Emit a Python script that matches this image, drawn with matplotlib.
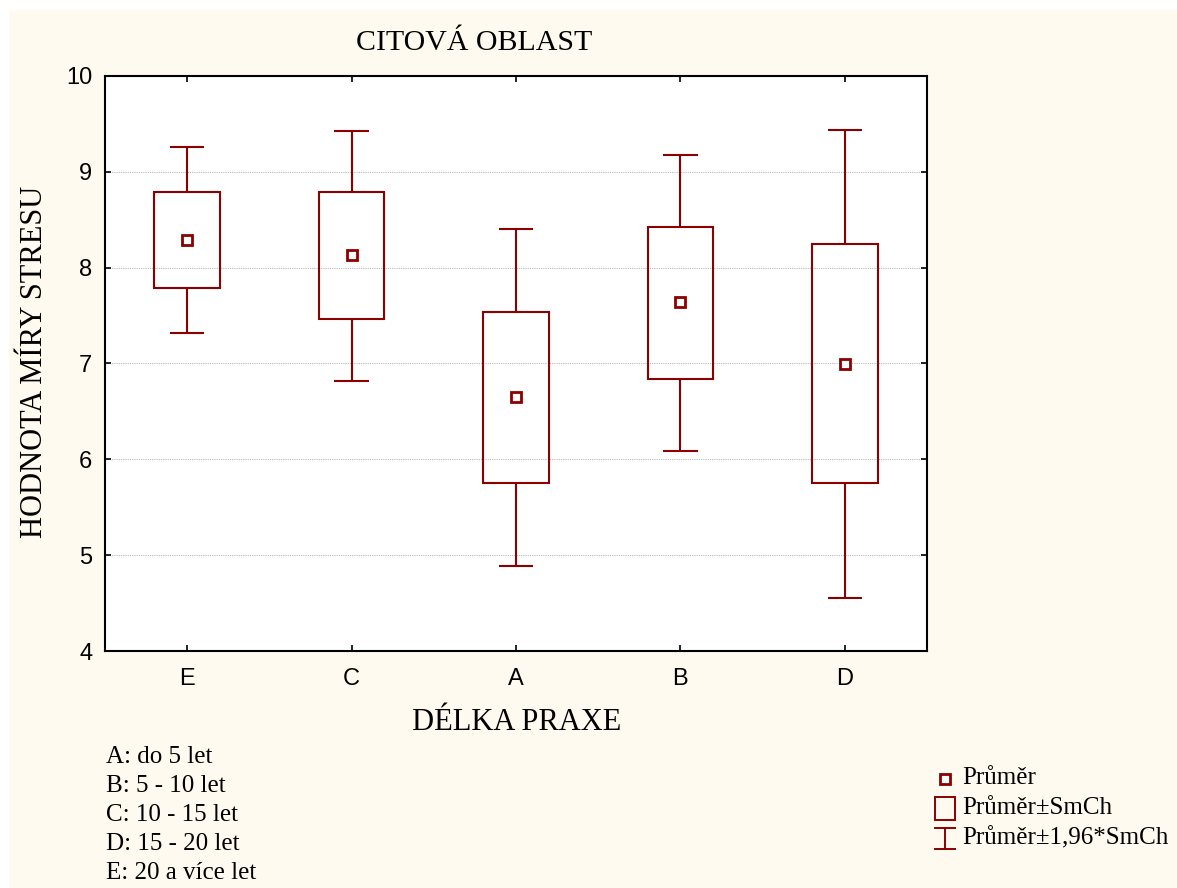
import matplotlib
matplotlib.use("Agg")
import matplotlib.pyplot as plt
from matplotlib.patches import Rectangle
from matplotlib.lines import Line2D

# ---- data ----
categories = ["E", "C", "A", "B", "D"]
means = [8.29, 8.13, 6.65, 7.64, 6.99]
se_low = [7.79, 7.46, 5.75, 6.84, 5.75]
se_high = [8.79, 8.79, 7.54, 8.42, 8.25]
ci_low = [7.32, 6.82, 4.89, 6.09, 4.55]
ci_high = [9.26, 9.43, 8.40, 9.18, 9.44]
y_ticks = [4, 5, 6, 7, 8, 9, 10]
legend_codes = ["A: do 5 let", "B: 5 - 10 let", "C: 10 - 15 let",
                "D: 15 - 20 let", "E: 20 a více let"]
legend_labels = ["Průměr", "Průměr±SmCh", "Průměr±1,96*SmCh"]

W, H = 1177, 888
RED = "#8B0000"
SERIF = ["Liberation Serif", "DejaVu Serif"]
SANS = ["Liberation Sans", "DejaVu Sans"]

fig = plt.figure(figsize=(W / 100, H / 100), dpi=100)
fig.patch.set_facecolor("white")
# cream panel
fig.patches.append(Rectangle((9 / W, 0), 1 - 9 / W, 1 - 10 / H,
                             transform=fig.transFigure, facecolor="#FFFAF0",
                             edgecolor="none", zorder=-10))

def fx(px):
    return px / W

def fy(py):
    return 1 - py / H

ax = fig.add_axes([fx(105), fy(651), (927 - 105) / W, (651 - 76) / H])
ax.set_facecolor("white")

x = list(range(len(categories)))
bw = 0.40
cw = 0.21
lw = 1.5
for i in x:
    ax.add_patch(Rectangle((i - bw / 2, se_low[i]), bw, se_high[i] - se_low[i],
                           facecolor="none", edgecolor=RED, linewidth=lw, zorder=3))
ax.vlines(x, se_high, ci_high, color=RED, linewidth=lw, zorder=3)
ax.vlines(x, ci_low, se_low, color=RED, linewidth=lw, zorder=3)
ax.hlines(ci_high, [i - cw / 2 for i in x], [i + cw / 2 for i in x], color=RED, linewidth=lw, zorder=3)
ax.hlines(ci_low, [i - cw / 2 for i in x], [i + cw / 2 for i in x], color=RED, linewidth=lw, zorder=3)
ax.plot(x, means, linestyle="none", marker="s", markersize=7.5,
        markerfacecolor="white", markeredgecolor=RED, markeredgewidth=2.0, zorder=4)

ax.set_xlim(-0.5, len(categories) - 0.5)
ax.set_ylim(4, 10)
ax.set_xticks(x)
ax.set_xticklabels(categories)
ax.set_yticks(y_ticks)
ax.set_yticklabels([str(v) for v in y_ticks])
for t in ax.get_xticklabels() + ax.get_yticklabels():
    t.set_fontfamily(SANS)
    t.set_fontsize(17)
ax.tick_params(axis="both", direction="in", length=4, width=1.2,
               top=True, right=True, colors="black")
ax.tick_params(axis="y", pad=9)
ax.tick_params(axis="x", pad=12)
ax.yaxis.grid(True, linestyle=(0, (1, 1)), color="#b8b8b8", linewidth=0.8)
ax.set_axisbelow(True)
for s in ax.spines.values():
    s.set_linewidth(1.5)
    s.set_color("black")

fig.text(fx(474), fy(43), "CITOVÁ OBLAST", ha="center", va="center",
         fontfamily=SERIF, fontsize=21.5)
fig.text(fx(35), fy(362), "HODNOTA MÍRY STRESU", ha="center", va="center",
         rotation=90, fontfamily=SERIF, fontsize=22)
fig.text(fx(517), fy(723), "DÉLKA PRAXE", ha="center", va="center",
         fontfamily=SERIF, fontsize=22)

for k, s in enumerate(legend_codes):
    fig.text(fx(106), fy(757 + k * 29), s, ha="left", va="center",
             fontfamily=SERIF, fontsize=18)

# legend symbols
leg_y = [778, 808, 838]
for k, s in enumerate(legend_labels):
    fig.text(fx(962), fy(leg_y[k]), s, ha="left", va="center",
             fontfamily=SERIF, fontsize=18)
fig.lines.append(Line2D([fx(944.5)], [fy(779)], transform=fig.transFigure,
                        marker="s", markersize=7.5, markerfacecolor="white",
                        markeredgecolor=RED, markeredgewidth=2.0, linestyle="none"))
fig.patches.append(Rectangle((fx(934.5), fy(820)), 20.5 / W, 23 / H,
                             transform=fig.transFigure, facecolor="none",
                             edgecolor=RED, linewidth=1.4))
fig.lines.append(Line2D([fx(944.5), fx(944.5)], [fy(828), fy(849)],
                        transform=fig.transFigure, color=RED, linewidth=1.4))
fig.lines.append(Line2D([fx(934.5), fx(955)], [fy(828), fy(828)],
                        transform=fig.transFigure, color=RED, linewidth=1.4))
fig.lines.append(Line2D([fx(934.5), fx(955)], [fy(849), fy(849)],
                        transform=fig.transFigure, color=RED, linewidth=1.4))

fig.savefig("out.png", dpi=100)
